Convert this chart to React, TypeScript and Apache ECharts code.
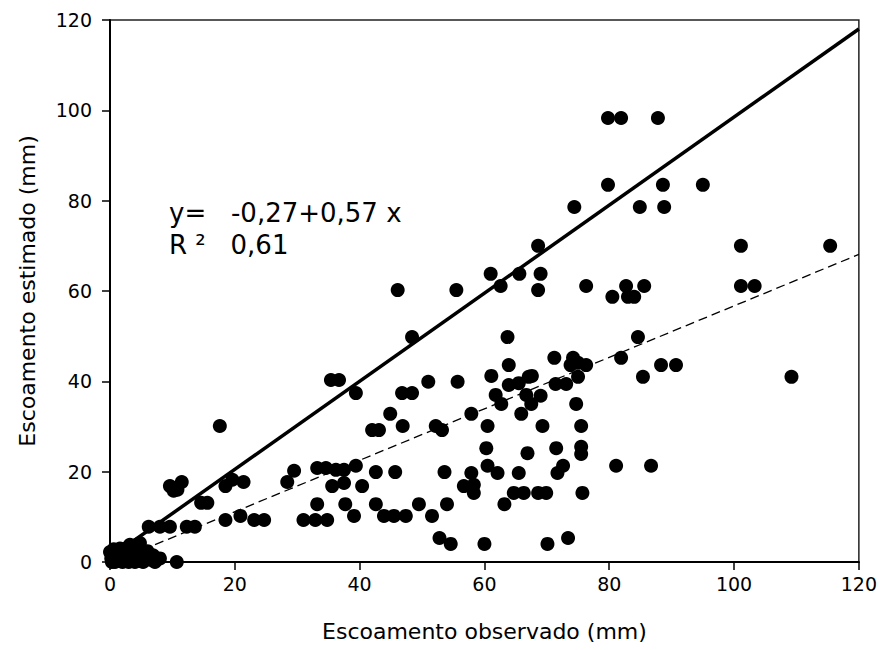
import React, { useEffect, useRef } from "react";
import * as echarts from "echarts";

const xTicks = [0, 20, 40, 60, 80, 100, 120];
const yTicks = [0, 20, 40, 60, 80, 100, 120];

const observedVsEstimated: [number, number][] = [
  [79.8, 98.3], [81.9, 98.3], [87.8, 98.3],
  [79.8, 83.5], [88.6, 83.5], [95.0, 83.5],
  [74.4, 78.6], [84.9, 78.6], [88.8, 78.6],
  [101.1, 70.0], [115.4, 70.0], [68.6, 70.0],
  [76.3, 61.1], [82.7, 61.1], [85.6, 61.1], [80.5, 58.7], [83.0, 58.7], [84.0, 58.7], [101.1, 61.1], [103.3, 61.1],
  [84.6, 49.8], [88.3, 43.6], [90.7, 43.6], [85.4, 41.0], [109.2, 41.0], [86.7, 21.3],
  [61.0, 63.8], [62.6, 61.1], [65.6, 63.8], [69.0, 63.8], [68.6, 60.2], [55.5, 60.2], [46.1, 60.2], [48.4, 49.8],
  [63.7, 49.8], [63.9, 43.6], [71.2, 45.2], [74.2, 45.2], [73.8, 43.6], [75.0, 44.1], [76.3, 43.6], [81.9, 45.2],
  [61.1, 41.2], [63.9, 39.2], [65.5, 39.6], [67.1, 41.0], [67.6, 41.2], [71.4, 39.4], [73.1, 39.4], [75.0, 41.0],
  [55.7, 39.9], [61.8, 37.0], [62.7, 35.0], [66.7, 37.0], [67.5, 35.0], [69.0, 36.8], [74.7, 35.0],
  [57.9, 32.8], [65.9, 32.8], [60.5, 30.1], [69.3, 30.1], [75.5, 30.1],
  [60.3, 25.2], [66.9, 24.1], [71.5, 25.2], [75.5, 25.5], [75.5, 23.9],
  [60.5, 21.3], [62.1, 19.7], [65.5, 19.7], [71.7, 19.7], [72.6, 21.3], [57.9, 19.7], [81.1, 21.3],
  [56.7, 16.8], [58.3, 15.3], [58.3, 17.1], [64.7, 15.3], [66.3, 15.3], [68.6, 15.3], [69.9, 15.3], [75.7, 15.3], [63.2, 12.8],
  [60.0, 4.0], [70.1, 4.0], [73.4, 5.3],
  [35.4, 40.3], [36.7, 40.3], [39.4, 37.4], [46.8, 37.4], [48.4, 37.4], [51.0, 39.9],
  [44.9, 32.8], [46.9, 30.1], [42.0, 29.2], [43.1, 29.2], [52.2, 30.1], [53.2, 29.2],
  [29.5, 20.2], [28.4, 17.7], [33.2, 20.8], [34.6, 20.8], [36.2, 20.4], [37.5, 20.4], [39.4, 21.3], [42.6, 19.9], [45.7, 19.9], [53.6, 19.9],
  [35.6, 16.8], [37.5, 17.5], [40.4, 16.8],
  [33.2, 12.8], [37.7, 12.8], [42.6, 12.8], [49.5, 12.8], [54.0, 12.8],
  [31.0, 9.3], [32.9, 9.3], [34.8, 9.3], [39.1, 10.2], [43.9, 10.2], [45.5, 10.2], [47.4, 10.2], [51.6, 10.2],
  [52.8, 5.3], [54.6, 4.0],
  [17.6, 30.1], [9.6, 16.8], [11.5, 17.7], [10.8, 16.0], [10.2, 15.8], [14.6, 13.1], [15.6, 13.1],
  [18.5, 16.8], [19.6, 18.2], [21.4, 17.7],
  [6.2, 7.8], [8.0, 7.8], [9.6, 7.8], [12.3, 7.8], [13.6, 7.8],
  [18.5, 9.3], [20.9, 10.2], [23.1, 9.3], [24.7, 9.3],
  [0, 2.2], [0.3, 0], [1, 1], [1.5, 2.2], [2, 0], [2.2, 0.8], [2.8, 2.2], [3, 0], [3.2, 3.8], [3.5, 1.2],
  [4, 0], [4.3, 3.8], [4.8, 3.1], [4.5, 1.5], [5.3, 0], [7.2, 0], [10.7, 0], [0.8, 0], [1.8, 1.5], [5.6, 2.2],
  [0.5, 1.5], [2.5, 3.0], [4.0, 2.5], [5.8, 1.0], [6.5, 0.5], [4.8, 4.2],
  [0.2, 0.8], [1.2, 0.3], [1.6, 3.0], [2.6, 1.6], [3.4, 2.6], [4.2, 0.6], [5.0, 0.2], [6.0, 2.4], [6.9, 1.5],
  [0.6, 2.8], [2.0, 2.6], [3.8, 1.8], [5.2, 1.2], [3.0, 3.2], [8.0, 0.8],
];

const solidLine: [number, number][] = [[0, 1.0], [120, 118.0]];
const regressionLine: [number, number][] = [[1, 0.3], [120, 68.1]];

const equationText = "y=   -0,27+0,57 x";
const r2Text = "R \u00b2   0,61";
const xTitle = "Escoamento observado (mm)";
const yTitle = "Escoamento estimado (mm)";

const FONT = "DejaVu Sans";

export default function App() {
  const ref = useRef<HTMLDivElement>(null);
  useEffect(() => {
    document.body.style.margin = "0";
    if (!ref.current) return;
    const chart = echarts.init(ref.current, null, { renderer: "svg" });
    const axisCommon = {
      type: "value" as const,
      min: xTicks[0],
      max: xTicks[xTicks.length - 1],
      interval: 20,
      splitLine: { show: false },
      axisLine: { show: true, lineStyle: { color: "#000", width: 2 } },
      axisTick: { show: true, inside: false, length: 8, lineStyle: { color: "#000", width: 1.5 } },
      nameLocation: "middle" as const,
      nameTextStyle: { fontFamily: FONT, fontSize: 22, color: "#000" },
    };
    chart.setOption({
      animation: false,
      backgroundColor: "#fff",
      grid: {
        left: 110,
        right: 18,
        top: 20,
        bottom: 88,
        show: true,
        borderColor: "#222",
        borderWidth: 1.5,
        backgroundColor: "transparent",
      },
      xAxis: {
        ...axisCommon,
        name: xTitle,
        nameGap: 58,
        axisLabel: { margin: 12, fontFamily: FONT, fontSize: 19, color: "#000" },
      },
      yAxis: {
        ...axisCommon,
        min: yTicks[0],
        max: yTicks[yTicks.length - 1],
        name: yTitle,
        nameGap: 72,
        axisLabel: { margin: 18, fontFamily: FONT, fontSize: 19, color: "#000" },
      },
      series: [
        {
          type: "line",
          data: solidLine,
          showSymbol: false,
          lineStyle: { color: "#000", width: 3.5 },
          z: 3,
        },
        {
          type: "line",
          data: regressionLine,
          showSymbol: false,
          lineStyle: { color: "#000", width: 1.3, type: [9, 5] },
          z: 3,
        },
        {
          type: "scatter",
          data: observedVsEstimated,
          symbolSize: 14,
          itemStyle: { color: "#000", opacity: 1 },
          z: 4,
        },
      ],
      graphic: [
        {
          type: "text",
          left: 169,
          top: 200,
          style: { text: equationText, fontFamily: FONT, fontSize: 26, fill: "#000" },
        },
        {
          type: "text",
          left: 169,
          top: 232,
          style: { text: r2Text, fontFamily: FONT, fontSize: 26, fill: "#000" },
        },
      ],
    });
    return () => chart.dispose();
  }, []);
  return <div ref={ref} style={{ width: 880, height: 650 }} />;
}
